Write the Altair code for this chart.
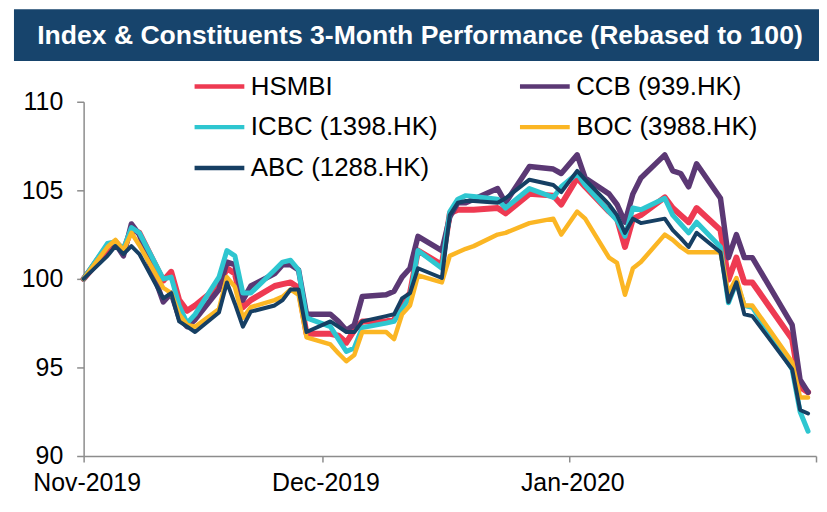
import altair as alt
import pandas as pd

TITLE = "Index & Constituents 3-Month Performance (Rebased to 100)"

dates = [
    "2019-11-01", "2019-11-04", "2019-11-05", "2019-11-06", "2019-11-07", "2019-11-08",
    "2019-11-11", "2019-11-12", "2019-11-13", "2019-11-14", "2019-11-15",
    "2019-11-18", "2019-11-19", "2019-11-20", "2019-11-21", "2019-11-22",
    "2019-11-25", "2019-11-26", "2019-11-27", "2019-11-28", "2019-11-29",
    "2019-12-02", "2019-12-03", "2019-12-04", "2019-12-05", "2019-12-06",
    "2019-12-09", "2019-12-10", "2019-12-11", "2019-12-12", "2019-12-13",
    "2019-12-16", "2019-12-17", "2019-12-18", "2019-12-19", "2019-12-20",
    "2019-12-23", "2019-12-24", "2019-12-27", "2019-12-30", "2019-12-31",
    "2020-01-02", "2020-01-03", "2020-01-06", "2020-01-07", "2020-01-08",
    "2020-01-09", "2020-01-10", "2020-01-13", "2020-01-14", "2020-01-15",
    "2020-01-16", "2020-01-17", "2020-01-20", "2020-01-21", "2020-01-22",
    "2020-01-23", "2020-01-24", "2020-01-29", "2020-01-30", "2020-01-31",
]

hsmbi = [
    100, 101.6, 102.1, 101.6, 102.8, 102.6, 99.9, 100.4, 98.8, 98.2, 98.5,
    99.6, 100.6, 100.3, 98.4, 98.8, 99.6, 99.7, 99.8, 99.5, 96.9,
    96.9, 96.8, 96.4, 97.1, 97.6, 97.6, 97.7, 98.6, 99.2, 101.6,
    100.8, 103.7, 103.9, 103.9, 103.9, 104.0, 103.7, 104.8, 104.7, 104.2,
    105.7, 105.2, 103.8, 103.4, 101.8, 103.4, 103.6, 104.6, 104.0, 103.6,
    103.2, 104.0, 102.75, 99.95, 101.2, 99.8, 99.8, 96.6, 93.9, 93.6,
]
ccb = [
    100, 101.9, 102.0, 101.3, 103.1, 102.5, 98.7, 99.2, 97.8, 97.3, 97.7,
    99.4, 100.95, 100.8, 98.8, 99.6, 100.3, 100.8, 100.8, 100.5, 98.0,
    98.0, 97.6, 97.1, 97.4, 99.0, 99.1, 99.3, 100.1, 100.6, 102.4,
    101.6, 103.5, 104.3, 104.3, 104.5, 105.1, 104.3, 106.35, 106.2, 105.95,
    107.0, 105.7, 104.8, 104.2, 103.2, 104.8, 105.7, 107.0, 106.1, 105.95,
    105.2, 106.5, 104.55, 101.2, 102.5, 101.2, 101.2, 97.4, 94.3, 93.6,
]
icbc = [
    100, 102.0, 102.1, 101.7, 102.9, 102.6, 100.0, 100.1, 98.5, 97.5, 98.0,
    100.1, 101.6, 101.3, 99.2, 99.2, 100.5, 100.95, 101.05, 100.5, 97.8,
    97.3, 96.6, 95.9, 96.1, 97.25, 97.5, 97.6, 98.3, 99.0, 101.6,
    100.6, 103.8, 104.5, 104.7, 104.65, 104.5, 104.0, 105.1, 104.6, 105.2,
    105.95, 105.3, 103.8, 103.3, 102.4, 104.0, 103.9, 104.55, 103.6, 103.1,
    102.6, 103.2, 101.8, 98.65, 99.8, 98.5, 98.4, 94.9, 92.5, 91.4,
]
boc = [
    100, 101.8, 102.2, 101.6, 102.6, 101.9, 99.5, 99.2, 98.0, 97.4, 97.3,
    98.3, 100.1, 99.55, 97.8, 98.4, 98.8, 99.0, 99.4, 99.1, 96.7,
    96.3, 95.8, 95.35, 95.7, 97.0, 97.0, 96.6, 98.0, 98.5, 100.2,
    99.8, 101.3, 101.5, 101.7, 101.85, 102.5, 102.6, 103.15, 103.4, 102.5,
    103.8, 103.4, 101.2, 100.9, 99.1, 100.6, 100.95, 102.5, 102.2, 101.8,
    101.5, 101.5, 101.5, 99.2, 100.05, 98.5, 98.5, 95.3, 93.3, 93.3,
]
abc = [
    100, 101.3, 101.85, 101.4, 101.85, 101.4, 98.9, 99.2, 97.6, 97.3, 97.0,
    98.1, 99.8, 98.6, 97.3, 98.15, 98.5, 98.8, 99.4, 99.4, 97.0,
    97.6, 97.3, 97.0, 97.0, 97.6, 97.9, 98.0, 98.9, 99.2, 100.6,
    100.05, 103.6, 104.3, 104.4, 104.4, 104.3, 104.55, 105.6, 105.3, 104.9,
    106.1, 105.6, 104.2, 103.6, 102.6, 103.4, 103.15, 103.4, 102.75, 102.3,
    101.8, 102.6, 101.5, 98.7, 99.8, 98.0, 97.9, 94.9, 92.6, 92.4,
]

# drawing order (bottom to top)
series_names = ["HSMBI", "CCB (939.HK)", "ICBC (1398.HK)", "BOC (3988.HK)", "ABC (1288.HK)"]
series_colors = ["#EE3A52", "#5B3874", "#2EC6D0", "#FBB624", "#163F63"]
series_widths = [6, 4, 4, 4, 4]
# legend order (column-major, 3 rows x 2 columns)
legend_order = ["HSMBI", "ICBC (1398.HK)", "ABC (1288.HK)", "CCB (939.HK)", "BOC (3988.HK)"]
legend_colors = [series_colors[series_names.index(n)] for n in legend_order]
y_ticks = [90, 95, 100, 105, 110]

rows = []
for name, vals in zip(series_names, [hsmbi, ccb, icbc, boc, abc]):
    for d, v in zip(dates, vals):
        rows.append({"date": d + "T00:00:00", "value": v, "series": name})
df = pd.DataFrame(rows)

FONT = "Liberation Sans"
AXIS_GRAY = "#8C8C8C"

x_enc = alt.X(
    "date:T",
    scale=alt.Scale(domain=[alt.DateTime(year=2019, month=11, date=1),
                            alt.DateTime(year=2020, month=2, date=1)]),
    axis=alt.Axis(
        title=None,
        values=[alt.DateTime(year=2019, month=11, date=1),
                alt.DateTime(year=2019, month=12, date=1),
                alt.DateTime(year=2020, month=1, date=1),
                alt.DateTime(year=2020, month=2, date=1)],
        labelExpr="month(datum.value) == 1 ? '' : timeFormat(datum.value, '%b-%Y')",
        grid=False,
        tickSize=6,
        tickColor=AXIS_GRAY,
        tickWidth=1.5,
        domainColor=AXIS_GRAY,
        domainWidth=1.5,
        labelFontSize=25,
        labelFont=FONT,
        labelColor="#000000",
        labelPadding=9,
        labelOffset=3,
        labelFlush=False,
        labelOverlap=False,
    ),
)
y_enc = alt.Y(
    "value:Q",
    scale=alt.Scale(domain=[90, 110], nice=False, zero=False),
    axis=alt.Axis(
        title=None,
        values=y_ticks,
        grid=False,
        tickSize=7,
        tickColor=AXIS_GRAY,
        tickWidth=1.5,
        domainColor=AXIS_GRAY,
        domainWidth=1.5,
        labelFontSize=25,
        labelFont=FONT,
        labelColor="#000000",
        labelPadding=14,
    ),
)

lines = alt.Chart(df).mark_line(strokeJoin="round", strokeCap="round").encode(
    x=x_enc,
    y=y_enc,
    color=alt.Color(
        "series:N",
        sort=legend_order,
        scale=alt.Scale(domain=legend_order, range=legend_colors),
        legend=alt.Legend(
            title=None,
            orient="none",
            legendX=109,
            legendY=-43,
            columns=2,
            symbolType="stroke",
            symbolSize=2500,
            symbolStrokeWidth=4.5,
            labelFontSize=26,
            labelFont=FONT,
            labelColor="#000000",
            labelLimit=500,
            labelOffset=4,
            columnPadding=73,
            rowPadding=-20,
        ),
    ),
    strokeWidth=alt.StrokeWidth(
        "series:N",
        scale=alt.Scale(domain=series_names, range=series_widths),
        legend=None,
    ),
    detail="series:N",
)

title_df = pd.DataFrame({"title": [TITLE]})
title_bar = alt.Chart(title_df).mark_rect(color="#17446C").encode(
    x=alt.value(-70), x2=alt.value(745), y=alt.value(-93), y2=alt.value(-41)
)
title_text = alt.Chart(title_df).mark_text(
    color="white", fontSize=26.7, fontWeight="bold", font=FONT,
    align="center", baseline="middle",
).encode(x=alt.value(338), y=alt.value(-66), text="title:N")

chart = alt.layer(title_bar, title_text, lines).properties(
    width=736,
    height=356,
    autosize=alt.AutoSizeParams(type="none"),
    padding={"left": 76, "top": 93, "right": 3, "bottom": 45},
    background="white",
).configure_view(stroke=None)

chart.save("out.html", embed_options={"renderer": "svg", "actions": False})
